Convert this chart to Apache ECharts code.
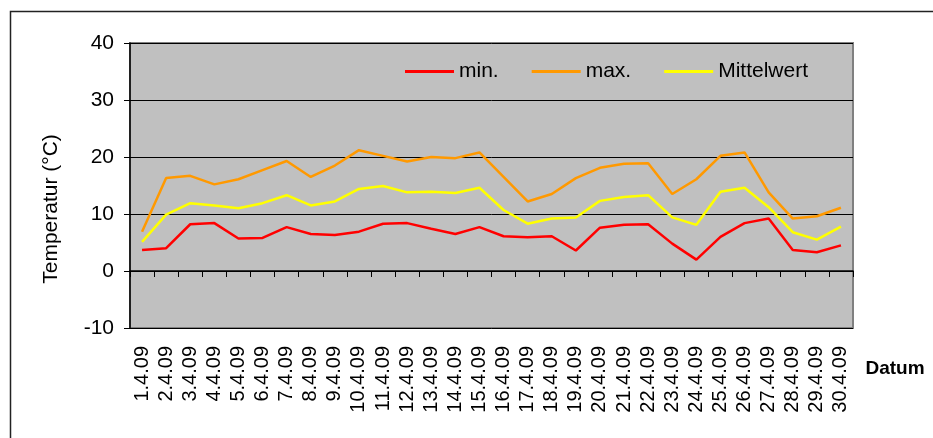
<!DOCTYPE html>
<html><head><meta charset="utf-8">
<script src="https://cdn.jsdelivr.net/npm/echarts@6/dist/echarts.min.js"></script>
<style>html,body{margin:0;padding:0;background:#fff}#c{width:933px;height:438px}</style>
</head><body><div id="c"></div>
<script>
const categories = ['1.4.09','2.4.09','3.4.09','4.4.09','5.4.09','6.4.09','7.4.09','8.4.09','9.4.09','10.4.09','11.4.09','12.4.09','13.4.09','14.4.09','15.4.09','16.4.09','17.4.09','18.4.09','19.4.09','20.4.09','21.4.09','22.4.09','23.4.09','24.4.09','25.4.09','26.4.09','27.4.09','28.4.09','29.4.09','30.4.09'];
const minValues = [3.7,4.0,8.2,8.4,5.7,5.8,7.7,6.5,6.3,6.9,8.3,8.4,7.4,6.5,7.7,6.1,5.9,6.1,3.6,7.6,8.1,8.2,4.8,2.0,6.0,8.4,9.2,3.7,3.3,4.5];
const maxValues = [6.9,16.3,16.7,15.2,16.1,17.7,19.3,16.5,18.5,21.2,20.2,19.2,20.0,19.8,20.8,16.5,12.2,13.5,16.3,18.1,18.8,18.9,13.5,16.1,20.2,20.8,13.8,9.2,9.6,11.1];
const meanValues = [5.1,9.9,11.9,11.5,11.0,11.9,13.3,11.5,12.2,14.4,14.9,13.8,13.9,13.7,14.6,10.7,8.3,9.2,9.4,12.3,13.0,13.3,9.4,8.1,13.9,14.6,11.2,6.8,5.5,7.8];
const yTicks = {min: -10, max: 40, interval: 10};

const chart = echarts.init(document.getElementById('c'));
const font = 'Arial, "Liberation Sans", sans-serif';
function line(name, data, color) {
  return {name, type: 'line', data, symbol: 'none', lineStyle: {color, width: 2.5}, itemStyle: {color}, animation: false};
}
chart.setOption({
  animation: false,
  grid: {left: 130, top: 43, width: 723, height: 285, show: true, backgroundColor: '#C0C0C0', borderColor: '#808080', borderWidth: 2},
  legend: {
    left: 400, top: 56, itemWidth: 49, itemHeight: 3, itemGap: 33, icon: 'rect',
    textStyle: {fontFamily: font, fontSize: 21, color: '#000'},
    data: ['min.', 'max.', 'Mittelwert']
  },
  xAxis: {
    type: 'category', data: categories, boundaryGap: true,
    axisLine: {lineStyle: {color: '#000', width: 1.5}},
    axisTick: {show: true, inside: false, length: 6, lineStyle: {color: '#000'}, interval: 0},
    axisLabel: {rotate: 90, interval: 0, fontFamily: font, fontSize: 20, color: '#000', margin: 18}
  },
  yAxis: {
    type: 'value', min: yTicks.min, max: yTicks.max, interval: yTicks.interval,
    axisLine: {show: true, lineStyle: {color: '#000', width: 1.5}},
    axisTick: {show: true, length: 6, lineStyle: {color: '#000'}},
    splitLine: {show: true, lineStyle: {color: '#000', width: 1}},
    axisLabel: {fontFamily: font, fontSize: 21, color: '#000', margin: 16}
  },
  graphic: [
    {type: 'rect', left: 8, top: 9, shape: {width: 1000, height: 1000}, style: {fill: 'none', stroke: '#222', lineWidth: 1.5}, silent: true},
    {type: 'text', x: 51, y: 209, rotation: Math.PI / 2, style: {text: 'Temperatur (°C)', font: '21px ' + font, fill: '#000', textAlign: 'center', textVerticalAlign: 'middle'}},
    {type: 'text', x: 895, y: 369, style: {text: 'Datum', font: 'bold 19px ' + font, fill: '#000', textAlign: 'center', textVerticalAlign: 'middle'}}
  ],
  series: [
    line('min.', minValues, '#FF0000'),
    line('max.', maxValues, '#FF9900'),
    line('Mittelwert', meanValues, '#FFFF00')
  ]
});
</script></body></html>
